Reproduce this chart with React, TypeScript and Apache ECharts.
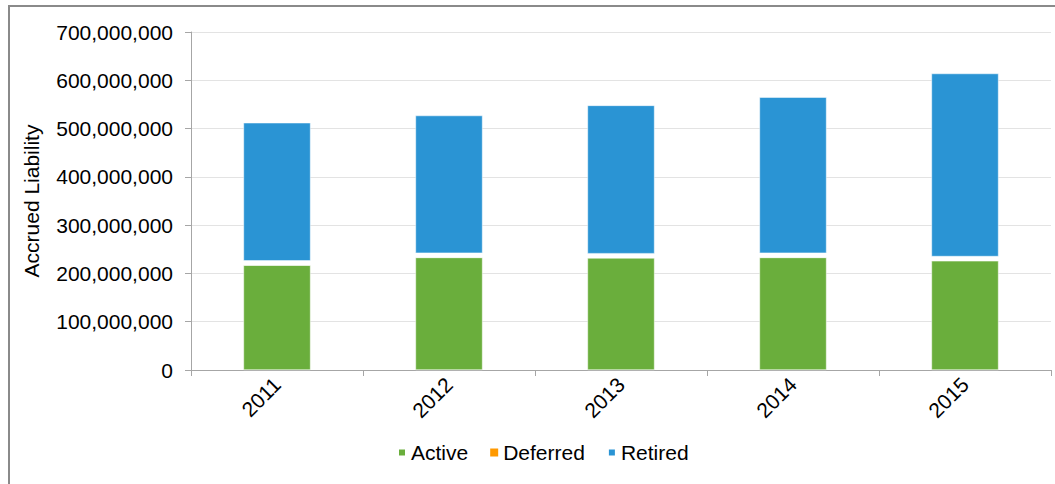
import React, { useEffect, useRef } from "react";
import * as echarts from "echarts";

const years = ["2011", "2012", "2013", "2014", "2015"];
const active = [217000000, 233000000, 232000000, 233000000, 226000000];
const deferred = [9000000, 9000000, 9000000, 9000000, 9000000];
const retired = [286000000, 285000000, 307000000, 323000000, 379000000];
const seriesNames = ["Active", "Deferred", "Retired"];
const seriesColors = ["#6AAE3C", "#FF9900", "#2A94D4"];

const FONT = "Liberation Sans, Arial, sans-serif";

export default function App() {
  const ref = useRef<HTMLDivElement>(null);
  useEffect(() => {
    if (!ref.current) return;
    const chart = echarts.init(ref.current, null, { renderer: "svg" });
    const dataSets = [active, deferred, retired];
    chart.setOption({
      animation: false,
      backgroundColor: "#ffffff",
      textStyle: { fontFamily: FONT },
      grid: { left: 191, top: 32, width: 860, height: 338, containLabel: false },
      graphic: [
        {
          type: "rect",
          shape: { x: 9, y: 6, width: 1200, height: 800 },
          style: { fill: "none", stroke: "#8a8a8a", lineWidth: 2 },
          silent: true,
        },
      ],
      legend: {
        left: 392,
        top: 437,
        itemWidth: 8,
        itemHeight: 8,
        itemGap: 22,
        icon: "rect",
        textStyle: { fontSize: 21, color: "#000", fontFamily: FONT },
        data: seriesNames.map((n, i) => ({ name: n, itemStyle: { color: seriesColors[i] } })),
      },
      xAxis: {
        type: "category",
        data: years,
        axisLine: { lineStyle: { color: "#a6a6a6" } },
        axisTick: { show: true, alignWithLabel: false, length: 6, lineStyle: { color: "#a6a6a6" } },
        axisLabel: { rotate: 45, fontSize: 21, color: "#000", margin: 11, fontFamily: FONT },
      },
      yAxis: {
        type: "value",
        min: 0,
        max: 700000000,
        interval: 100000000,
        name: "Accrued Liability",
        nameLocation: "middle",
        nameGap: 149,
        nameTextStyle: { fontSize: 21, color: "#000", fontFamily: FONT },
        axisLine: { show: true, lineStyle: { color: "#a6a6a6" } },
        axisTick: { show: true, length: 6, lineStyle: { color: "#a6a6a6" } },
        splitLine: { lineStyle: { color: "#e3e3e3", width: 1 } },
        axisLabel: {
          fontSize: 21,
          color: "#000",
          margin: 18,
          fontFamily: FONT,
          formatter: (v: number) => v.toLocaleString("en-US"),
        },
      },
      series: seriesNames.map((n, i) => ({
        name: n,
        type: "bar",
        stack: "total",
        barWidth: "39%",
        data: dataSets[i],
        itemStyle: {
          color: i === 1 ? "#ffffff" : seriesColors[i],
          borderColor: "#ffffff",
          borderWidth: i === 1 ? 0 : 0.5,
        },
      })),
    });
    return () => chart.dispose();
  }, []);
  return (
    <div
      ref={ref}
      style={{ position: "fixed", left: 0, top: 0, width: 1055, height: 484 }}
    />
  );
}
